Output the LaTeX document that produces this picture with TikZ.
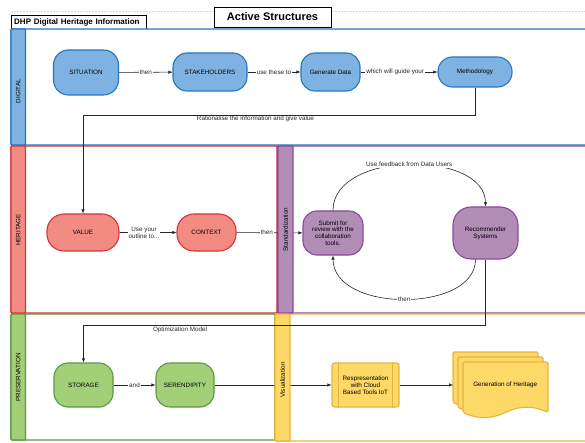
\documentclass[tikz,border=0pt]{standalone}
\usepackage{fontspec}
\setmainfont{Liberation Sans}
\usetikzlibrary{arrows.meta,positioning}

\definecolor{digiline}{RGB}{40,118,188}
\definecolor{digifill}{RGB}{126,178,226}
\definecolor{heriline}{RGB}{214,52,62}
\definecolor{herifill}{RGB}{242,139,130}
\definecolor{stanline}{RGB}{137,74,152}
\definecolor{stanfill}{RGB}{178,141,182}
\definecolor{presline}{RGB}{88,152,66}
\definecolor{presfill}{RGB}{163,207,120}
\definecolor{visline}{RGB}{230,180,62}
\definecolor{visfill}{RGB}{255,217,104}

\begin{document}
\begin{tikzpicture}[x=1pt,y=-1pt,
  font=\fontsize{6.3}{6.8}\selectfont,
  >={Latex[length=4pt,width=3.4pt]},
  lane/.style={line width=1.2pt, rounded corners=1pt},
  block/.style={line width=1.1pt, align=center, inner sep=1pt},
  digiblock/.style={block, draw=digiline, fill=digifill},
  heriblock/.style={block, draw=heriline, fill=herifill},
  stanblock/.style={block, draw=stanline, fill=stanfill},
  presblock/.style={block, draw=presline, fill=presfill},
  visblock/.style={block, draw=visline, fill=visfill},
  lbl/.style={fill=white, inner sep=0.8pt},
  link/.style={->, line width=0.6pt, black!85}]
\useasboundingbox (0,0) rectangle (585,443);
\clip (0,0) rectangle (585,443);
\fill[white] (0,0) rectangle (585,443);
\draw[gray!30, dash pattern=on 2pt off 1pt] (11,11) -- (585,11);

% headers
\node[draw, fill=white, font=\bfseries\fontsize{11}{13}\selectfont,
  minimum width=117pt, minimum height=20pt, inner sep=0pt] (title) at (272.5,17) {Active Structures};
\node[draw, fill=white, anchor=north west, text width=129pt, align=left,
  inner xsep=3pt, inner ysep=0pt, minimum height=14.5pt,
  font=\bfseries\fontsize{8}{9}\selectfont] (dhp) at (11,15) {DHP Digital Heritage Information};

% lanes
\draw[lane, draw=digiline, fill=white] (11,29) rectangle (590,145);
\draw[lane, draw=heriline, fill=white] (11,146) rectangle (277,313);
\draw[lane, draw=stanline, fill=white] (277.5,146) rectangle (590,313);
\draw[lane, draw=presline, fill=white] (11,314) rectangle (275,440);
\draw[lane, draw=visline, fill=white] (275,314) rectangle (590,441);

% DIGITAL
\node[digiblock, rounded corners=15pt, minimum width=65pt, minimum height=45pt] (sit) at (86,72.5) {SITUATION};
\node[digiblock, rounded corners=14pt, minimum width=74pt, minimum height=38pt] (stake) at (210,72) {STAKEHOLDERS};
\node[digiblock, rounded corners=14pt, minimum width=59pt, minimum height=38pt] (gen) at (330.5,72) {Generate Data};
\node[digiblock, rounded corners=14.5pt, minimum width=74pt, minimum height=30pt] (meth) at (475,72) {Methodology};

% HERITAGE
\node[heriblock, rounded corners=17pt, minimum width=72pt, minimum height=37pt] (val) at (83,232.5) {VALUE};
\node[heriblock, rounded corners=17pt, minimum width=59pt, minimum height=37pt] (ctx) at (206.5,232.5) {CONTEXT};

% Standardization
\node[stanblock, rounded corners=14pt, minimum width=60pt, minimum height=44pt] (sub) at (333,233)
  {Submit for\\review with the\\collaboration\\tools.};
\node[stanblock, rounded corners=18pt, minimum width=65pt, minimum height=52pt] (rec) at (485.5,233)
  {Recommender\\Systems};

% PRESERVATION
\node[presblock, rounded corners=14pt, minimum width=59pt, minimum height=44pt] (sto) at (83.5,385) {STORAGE};
\node[presblock, rounded corners=14pt, minimum width=58pt, minimum height=44pt] (ser) at (185,385) {SERENDIPITY};

% Visualization
\node[visblock, rounded corners=2.5pt, minimum width=67pt, minimum height=44pt, font=\fontsize{6.3}{7}\selectfont] (rep) at (365.5,385)
  {Respresentation\\with Cloud\\Based Tools IoT};
\draw[visline, line width=1.1pt] ([xshift=7pt]rep.north west) -- ([xshift=7pt]rep.south west);
\draw[visline, line width=1.1pt] ([xshift=-7pt]rep.north east) -- ([xshift=-7pt]rep.south east);
\foreach \d in {0,5,10}
  \filldraw[draw=visline, fill=visfill, line width=1.1pt, rounded corners=1.5pt, shift={({453+\d},{352+\d})}]
    (0,50.4) -- (0,0) -- (85,0) -- (85,50.4)
    .. controls (70.8,43.7) and (56.7,43.7) .. (42.5,50.4)
    .. controls (28.3,57.1) and (13.9,57.1) .. (0,50.4) -- cycle;
\node[anchor=west, minimum width=104pt, inner sep=0pt] (her) at (453,385) {Generation of Heritage};

% links hidden by the side strips
\draw[link] (ctx) -- node[lbl, pos=0.46] {then} (sub);
\draw[link] (ser) -- (rep);

% side strips
\draw[lane, draw=digiline, fill=digifill] (11,29) rectangle (25.5,145);
\draw[lane, draw=heriline, fill=herifill] (11,146) rectangle (25.5,313);
\draw[lane, draw=stanline, fill=stanfill] (278,146) rectangle (293,313);
\draw[lane, draw=presline, fill=presfill] (11,314) rectangle (25.5,440);
\draw[lane, draw=visline, fill=visfill] (275,314) rectangle (290,441);
\node[rotate=90] (diglbl) at (18.2,91) {DIGITAL};
\node[rotate=90] (herlbl) at (18.2,230) {HERITAGE};
\node[rotate=90] (stanlbl) at (285.5,229.5) {Standardization};
\node[rotate=90] (preslbl) at (18.2,377.5) {PRESERVATION};
\node[rotate=90] (vislbl) at (282.5,380) {Visualization};

% links
\draw[link] (sit) -- node[lbl] {then} (stake);
\draw[link] (stake) -- node[lbl] {use these to} (gen);
\draw[link] (gen) -- node[lbl, pos=0.45] {which will guide your} (meth);
\draw[link] (meth.south) -- (meth.south |- 0,115) -| node[pos=0.28, below, inner sep=0.8pt]
  {Rationalise the information and give value} (val.north);
\draw[link] (val) -- node[lbl, pos=0.43, align=center] {Use your\\outline to...} (ctx);
\draw[link] (sub.north) .. controls (333,150) and (485.5,150) .. node[lbl] {Use feedback from Data Users} (rec.north);
\draw[link] ([xshift=-10pt]rec.south) .. controls (475.5,313) and (333,313) .. node[lbl] {then} (sub.south);
\draw[link] (rec.south) -- (rec.south |- 0,325.5) -| node[pos=0.38, below, inner sep=1pt]
  {Optimization Model} (sto.north);
\draw[link] (sto) -- node[lbl] {and} (ser);
\draw[link] (rep) -- (her);
\end{tikzpicture}
\end{document}
